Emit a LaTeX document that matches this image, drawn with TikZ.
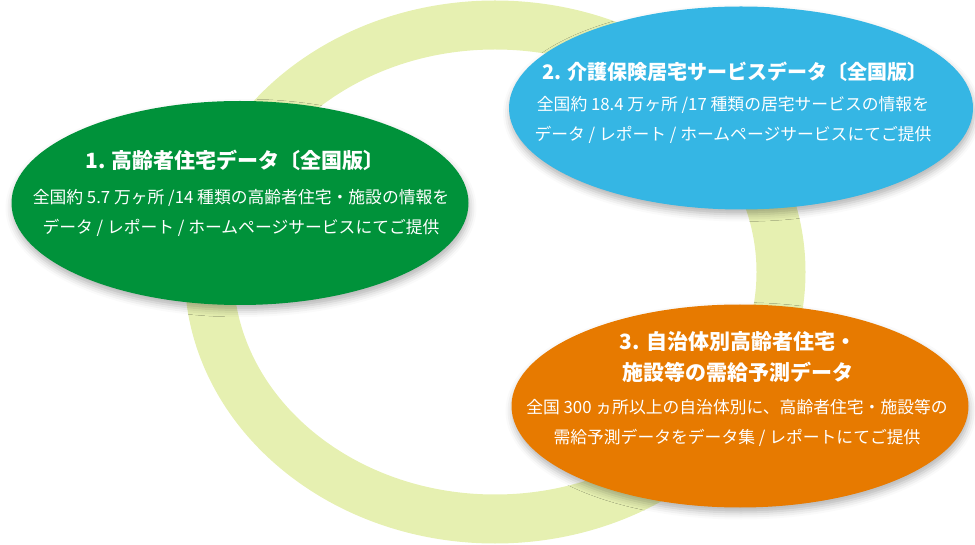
\documentclass[tikz,border=0pt]{standalone}
\usepackage{fontspec}
\setmainfont{Noto Sans CJK JP}
\usetikzlibrary{shapes.geometric,shadows.blur}
\definecolor{ringc}{HTML}{E6F0B1}
\definecolor{grn}{HTML}{00923A}
\definecolor{blu}{HTML}{35B6E4}
\definecolor{org}{HTML}{E77A00}
\begin{document}
\begin{tikzpicture}[x=1pt,y=-1pt,
  bubble/.style={ellipse, inner sep=0pt, blur shadow={shadow xshift=1pt, shadow yshift=-5pt, shadow blur radius=7pt, shadow opacity=30}},
  ttl/.style={text=white, font=\fontsize{21}{31}\selectfont\bfseries, align=center, inner sep=0pt},
  bdy/.style={text=white, font=\fontsize{16.8}{30}\selectfont, align=center, inner sep=0pt}]
\useasboundingbox (0,0) rectangle (975,545);
% ring
\draw[ringc, line width=49pt] (495,272) ellipse [x radius=286, y radius=247];
% bubbles
\node[bubble, fill=org, minimum width=457pt, minimum height=203pt] (b3) at (740,406) {};
\node[bubble, fill=blu, minimum width=464pt, minimum height=203pt] (b2) at (741,108) {};
\node[bubble, fill=grn, minimum width=457pt, minimum height=204pt] (b1) at (240,203) {};
% texts
\node[ttl] (t1) at (235,160) {1. 高齢者住宅データ〔全国版〕};
\node[bdy] (d1) at (241,213) {全国約 5.7 万ヶ所 /14 種類の高齢者住宅・施設の情報を\\データ / レポート / ホームページサービスにてご提供};
\node[ttl, font=\fontsize{20}{31}\selectfont\bfseries] (t2) at (735,72) {2. 介護保険居宅サービスデータ〔全国版〕};
\node[bdy] (d2) at (733,120) {全国約 18.4 万ヶ所 /17 種類の居宅サービスの情報を\\データ / レポート / ホームページサービスにてご提供};
\node[ttl] (t3) at (738,357.5) {3. 自治体別高齢者住宅・\\施設等の需給予測データ};
\node[bdy] (d3) at (737,423) {全国 300 ヵ所以上の自治体別に、高齢者住宅・施設等の\\需給予測データをデータ集 / レポートにてご提供};
\end{tikzpicture}
\end{document}
